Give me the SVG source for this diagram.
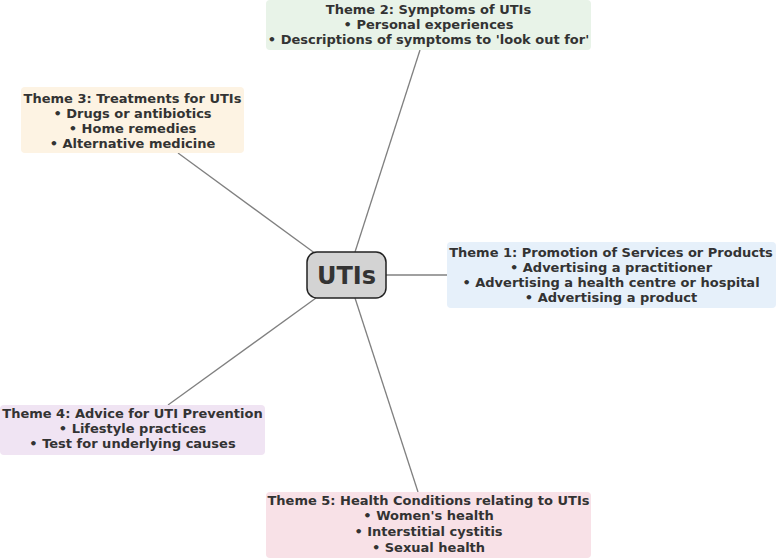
<svg xmlns="http://www.w3.org/2000/svg" width="776" height="559" viewBox="0 0 776 559">
<style>
.t{font-family:"DejaVu Sans",sans-serif;font-weight:bold;font-size:13px;fill:#333;text-anchor:middle}
.c{stroke:#808080;stroke-width:1.3;fill:none}
</style>
<rect width="776" height="559" fill="#fff"/>
<g id="connectors">
<line class="c" x1="355" y1="252" x2="420" y2="50"/>
<line class="c" x1="316" y1="254" x2="178" y2="153"/>
<line class="c" x1="386" y1="275" x2="447" y2="275"/>
<line class="c" x1="316" y1="298" x2="168" y2="405"/>
<line class="c" x1="355" y1="298" x2="418" y2="492"/>
</g>
<g id="center">
<rect x="307" y="252" width="79" height="46" rx="10" fill="#d3d3d3" stroke="#222" stroke-width="1.5"/>
<text x="346.5" y="284" style="font-family:'DejaVu Sans',sans-serif;font-weight:bold;font-size:24px;fill:#333;text-anchor:middle">UTIs</text>
</g>
<g id="theme2">
<rect x="266" y="0" width="325" height="50" rx="4" fill="#e8f3e8"/>
<text class="t" x="428.5" y="14">Theme 2: Symptoms of UTIs</text>
<text class="t" x="428.5" y="29">• Personal experiences</text>
<text class="t" x="428.5" y="44">• Descriptions of symptoms to 'look out for'</text>
</g>
<g id="theme3">
<rect x="21" y="87" width="223" height="66" rx="4" fill="#fdf3e3"/>
<text class="t" x="132.5" y="103">Theme 3: Treatments for UTIs</text>
<text class="t" x="132.5" y="118">• Drugs or antibiotics</text>
<text class="t" x="132.5" y="133">• Home remedies</text>
<text class="t" x="132.5" y="148">• Alternative medicine</text>
</g>
<g id="theme1">
<rect x="447" y="242" width="329" height="66" rx="4" fill="#e6f0fa"/>
<text class="t" x="611" y="257">Theme 1: Promotion of Services or Products</text>
<text class="t" x="611" y="272">• Advertising a practitioner</text>
<text class="t" x="611" y="287">• Advertising a health centre or hospital</text>
<text class="t" x="611" y="302">• Advertising a product</text>
</g>
<g id="theme4">
<rect x="0" y="405" width="265" height="50" rx="4" fill="#f0e4f3"/>
<text class="t" x="132.5" y="418">Theme 4: Advice for UTI Prevention</text>
<text class="t" x="132.5" y="433">• Lifestyle practices</text>
<text class="t" x="132.5" y="448">• Test for underlying causes</text>
</g>
<g id="theme5">
<rect x="266" y="492" width="325" height="66" rx="4" fill="#f8e1e7"/>
<text class="t" x="428.5" y="505">Theme 5: Health Conditions relating to UTIs</text>
<text class="t" x="428.5" y="520">• Women's health</text>
<text class="t" x="428.5" y="536">• Interstitial cystitis</text>
<text class="t" x="428.5" y="552">• Sexual health</text>
</g>
</svg>
